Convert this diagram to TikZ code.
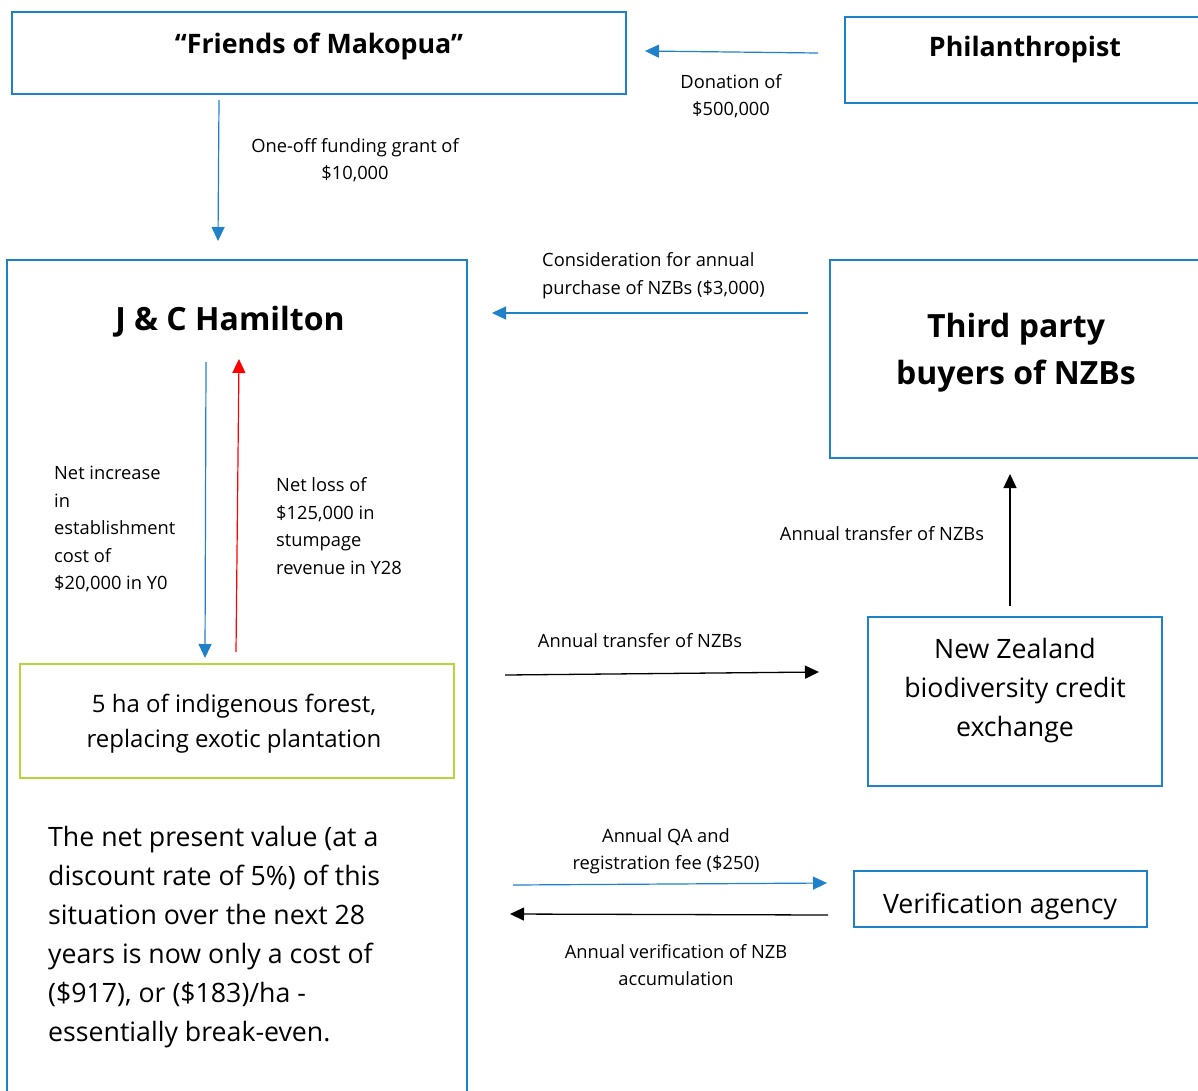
\documentclass[tikz,border=0pt]{standalone}
\usepackage{fontspec}
\setmainfont{Open Sans}
\usetikzlibrary{arrows.meta}
\definecolor{bblue}{RGB}{31,130,200}
\definecolor{lgreen}{RGB}{183,212,56}
\begin{document}
\begin{tikzpicture}[x=1pt,y=-1pt,
  box/.style={draw=bblue,line width=2.4pt,inner sep=0pt},
  gbox/.style={draw=lgreen,line width=2.6pt,inner sep=0pt},
  lbl/.style={font=\fontsize{18.3}{27}\selectfont,align=center,inner sep=0pt},
  lbll/.style={font=\fontsize{18.3}{27.5}\selectfont,align=left,inner sep=0pt},
  big/.style={font=\fontsize{26.7}{39}\selectfont,align=center,inner sep=0pt},
  ttl/.style={font=\fontsize{26.8}{36}\selectfont\bfseries,align=center,inner sep=0pt},
  bttl/.style={font=\fontsize{32}{47}\selectfont\bfseries,align=center,inner sep=0pt},
  tip/.style={-{Triangle[length=14pt,width=13pt]}},
  barr/.style={tip,draw=bblue,line width=1.2pt},
  karr/.style={tip,draw=black,line width=1.3pt},
  rarr/.style={tip,draw=red,line width=1.2pt}]
\useasboundingbox (0,0) rectangle (1198,1090);

% boxes
\node[box,minimum width=614pt,minimum height=82pt] (fom) at (319,53) {};
\node[box,minimum width=385pt,minimum height=86pt] (phil) at (1037.5,60) {};
\node[box,minimum width=460pt,minimum height=860pt] (jch) at (237,690) {};
\node[box,minimum width=400pt,minimum height=198pt] (tpb) at (1030,359) {};
\node[gbox,minimum width=434pt,minimum height=114pt] (forest) at (237,721) {};
\node[box,minimum width=294pt,minimum height=169pt] (nzx) at (1015,701.5) {};
\node[box,minimum width=293pt,minimum height=56pt] (ver) at (1000.5,899) {};

% titles
\node[ttl] (fomt) at (319,46) {“Friends of Makopua”};
\node[ttl] (philt) at (1025,50) {Philanthropist};
\node[bttl] (jcht) at (230,322) {J \& C Hamilton};
\node[bttl] (tpbt) at (1016,352.5) {Third party\\buyers of NZBs};
\node[font=\fontsize{24}{35}\selectfont,align=center,inner sep=0pt] (forestt) at (234,724) {5 ha of indigenous forest,\\replacing exotic plantation};
\node[big] (nzxt) at (1015,691) {New Zealand\\biodiversity credit\\exchange};
\node[big] (vert) at (1000,906) {Verification agency};
\node[big,align=left,anchor=west] (npv) at (48,937) {The net present value (at a\\discount rate of 5\%) of this\\situation over the next 28\\years is now only a cost of\\(\$917), or (\$183)/ha -\\essentially break-even.};

% connector end points
\coordinate (d1) at (818,53);   \coordinate (d2) at (645,51);
\coordinate (g1) at (219,100);  \coordinate (g2) at (218,241);
\coordinate (c1) at (808,313);  \coordinate (c2) at (492,313);
\coordinate (b1) at (206,362);  \coordinate (b2) at (205,658);
\coordinate (r1) at (236,652);  \coordinate (r2) at (239,359);
\coordinate (u1) at (1010,606); \coordinate (u2) at (1010,474);
\coordinate (t1) at (505,675);  \coordinate (t2) at (819,672);
\coordinate (q1) at (513,885);  \coordinate (q2) at (827,883);
\coordinate (v1) at (828,915);  \coordinate (v2) at (510,914);

\draw[barr] (d1) -- (d2);
\draw[barr] (g1) -- (g2);
\draw[barr] (c1) -- (c2);
\draw[barr] (b1) -- (b2);
\draw[rarr] (r1) -- (r2);
\draw[karr] (u1) -- (u2);
\draw[karr] (t1) -- (t2);
\draw[barr] (q1) -- (q2);
\draw[karr] (v1) -- (v2);

% labels
\node[lbl] (ld) at (731,96.5) {Donation of\\\$500,000};
\node[lbl] (lg) at (355,160.5) {One-off funding grant of\\\$10,000};
\node[lbll,anchor=west] (lc) at (542,275.5) {Consideration for annual\\purchase of NZBs (\$3,000)};
\node[lbll,anchor=west] (lb) at (54,529) {Net increase\\in\\establishment\\cost of\\\$20,000 in Y0};
\node[lbll,anchor=west] (lr) at (276,526) {Net loss of\\\$125,000 in\\stumpage\\revenue in Y28};
\node[lbl] (lu) at (882,534) {Annual transfer of NZBs};
\node[lbl] (lt) at (640,641) {Annual transfer of NZBs};
\node[lbl] (lq) at (666,851.5) {Annual QA and\\registration fee (\$250)};
\node[lbl] (lv) at (676,965) {Annual verification of NZB\\accumulation};
\end{tikzpicture}
\end{document}
